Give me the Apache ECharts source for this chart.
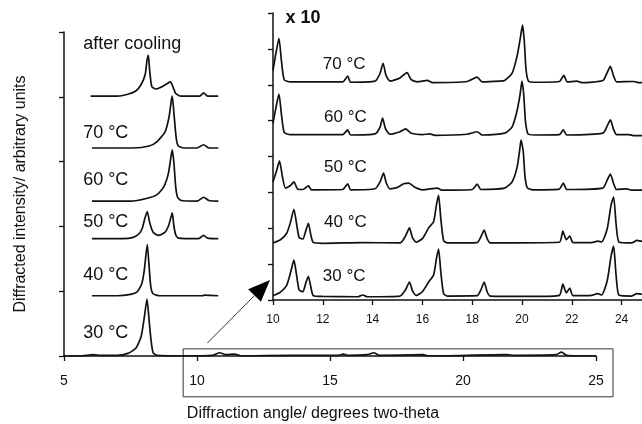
<!DOCTYPE html>
<html>
<head>
<meta charset="UTF-8">
<script src="https://cdn.jsdelivr.net/npm/echarts@6/dist/echarts.min.js"></script>
<style>
    html, body { margin: 0; padding: 0; background: #fff; }
    #chart { width: 642px; height: 424px; }
</style>
</head>
<body>
<div id="chart"></div>
<script>
// XRD patterns: [angle, intensity above own baseline]

// main panel (full scale), y units = axis units
const main30 = [[5,0],[5.6,0],[6.1,0.02],[6.4,0.01],[7.0,0.01],[7.4,0.04],[7.7,0.12],[7.9,0.3],[8.02,0.6],[8.12,0.88],[8.2,0.55],[8.27,0.25],[8.35,0.05],[8.5,0.01],[9.5,0],[10.6,0.01],[10.85,0.05],[11.1,0.02],[11.4,0.03],[11.7,0],[13.6,0.01],[15.3,0.01],[15.5,0.03],[15.7,0.01],[16.4,0.02],[16.65,0.05],[16.85,0.01],[18.5,0.02],[18.7,0],[21.65,0.02],[21.9,0.01],[23.5,0.02],[23.7,0.06],[23.9,0.01],[25,0]];
const main40 = [[6.05,0],[7.0,0],[7.5,0.02],[7.75,0.06],[7.92,0.18],[8.02,0.4],[8.13,0.79],[8.2,0.45],[8.26,0.15],[8.35,0.03],[8.6,0],[10.2,0],[10.3,0.01],[10.8,0]];
const main50 = [[6.05,0],[7.2,0],[7.6,0.02],[7.83,0.08],[7.95,0.17],[8.03,0.3],[8.13,0.42],[8.22,0.25],[8.35,0.1],[8.55,0.05],[8.8,0.1],[8.93,0.2],[9.0,0.3],[9.07,0.4],[9.13,0.2],[9.2,0.06],[9.3,0.01],[10.05,0],[10.25,0.05],[10.4,0.01],[10.8,0]];
const main60 = [[6.05,0],[7.5,0],[8.1,0.04],[8.5,0.1],[8.75,0.22],[8.92,0.42],[9.02,0.68],[9.07,0.79],[9.13,0.6],[9.2,0.22],[9.27,0.06],[9.4,0.01],[10.0,0],[10.25,0.06],[10.45,0.01],[10.8,0]];
const main70 = [[6.05,0],[7.6,0],[8.2,0.03],[8.5,0.1],[8.8,0.25],[8.95,0.48],[9.03,0.72],[9.07,0.8],[9.14,0.5],[9.22,0.15],[9.3,0.03],[9.5,0],[10.0,0],[10.25,0.05],[10.45,0],[10.8,0]];
const mainCool = [[6.0,0],[7.0,0],[7.4,0.03],[7.7,0.08],[7.9,0.18],[8.05,0.33],[8.12,0.55],[8.17,0.63],[8.22,0.4],[8.3,0.15],[8.45,0.11],[8.7,0.15],[8.9,0.2],[9.0,0.22],[9.1,0.14],[9.2,0.04],[9.4,0],[10.1,0],[10.25,0.05],[10.4,0],[10.8,0]];
const mainOffsets = [0, 0.93, 1.81, 2.39, 3.21, 4.01];
const mainLabels = ['30 °C', '40 °C', '50 °C', '60 °C', '70 °C', 'after cooling'];

// inset (x 10 magnified)
const inset30 = [[10,0.04],[10.3,0.14],[10.55,0.33],[10.7,0.67],[10.84,1.03],[10.95,0.6],[11.05,0.2],[11.2,0.15],[11.32,0.4],[11.42,0.58],[11.52,0.28],[11.62,0.04],[12.0,0.02],[13.4,0.01],[13.6,0.06],[13.8,0.01],[15.1,0.03],[15.32,0.2],[15.48,0.42],[15.6,0.18],[15.75,0.05],[16.0,0.15],[16.25,0.42],[16.45,0.62],[16.57,1.1],[16.65,1.34],[16.74,0.7],[16.85,0.1],[17.0,0.03],[18.2,0.04],[18.36,0.22],[18.48,0.42],[18.6,0.15],[18.72,0.03],[20.5,0.02],[21.5,0.05],[21.64,0.36],[21.78,0.12],[21.92,0.25],[22.05,0.04],[22.8,0.05],[23.04,0.1],[23.2,0.06],[23.42,0.45],[23.58,1.15],[23.68,1.42],[23.78,0.6],[23.9,0.05],[24.4,0.03],[24.62,0.1],[24.8,0.08],[25,0.08]];
const inset40 = [[10,0.03],[10.3,0.12],[10.55,0.3],[10.7,0.6],[10.84,0.97],[10.95,0.55],[11.05,0.18],[11.2,0.14],[11.32,0.38],[11.42,0.58],[11.52,0.25],[11.62,0.04],[12.0,0.02],[13.6,0.04],[15.1,0.03],[15.32,0.22],[15.48,0.45],[15.6,0.18],[15.75,0.05],[16.0,0.15],[16.25,0.45],[16.45,0.62],[16.57,1.12],[16.65,1.36],[16.74,0.7],[16.85,0.1],[17.0,0.03],[18.2,0.04],[18.36,0.22],[18.48,0.39],[18.6,0.15],[18.72,0.03],[21.5,0.05],[21.64,0.36],[21.78,0.12],[21.92,0.22],[22.05,0.04],[22.8,0.04],[23.04,0.08],[23.2,0.06],[23.42,0.42],[23.58,1.1],[23.68,1.31],[23.78,0.55],[23.9,0.05],[24.4,0.03],[24.62,0.1],[24.8,0.08],[25,0.08]];
const inset50 = [[10,0.25],[10.15,0.58],[10.26,0.84],[10.38,0.39],[10.5,0.08],[10.7,0.15],[10.84,0.25],[10.98,0.06],[11.2,0.04],[11.42,0.14],[11.55,0.03],[12.8,0.04],[13.0,0.2],[13.12,0.03],[14.1,0.06],[14.3,0.25],[14.44,0.5],[14.55,0.22],[14.7,0.06],[15.0,0.1],[15.25,0.2],[15.45,0.22],[15.7,0.1],[16.0,0.03],[16.6,0.08],[16.8,0.02],[18.0,0.04],[18.2,0.19],[18.35,0.04],[19.3,0.08],[19.6,0.25],[19.8,0.65],[19.9,1.1],[19.96,1.42],[20.05,1.1],[20.12,0.4],[20.22,0.08],[20.5,0.03],[21.5,0.05],[21.66,0.22],[21.8,0.04],[23.25,0.08],[23.42,0.3],[23.55,0.47],[23.68,0.2],[23.8,0.04],[24.2,0.06],[24.4,0.02],[25,0.02]];
const inset60 = [[10,0.36],[10.12,0.8],[10.24,1.17],[10.34,0.6],[10.45,0.1],[10.7,0.04],[12.8,0.04],[13.0,0.17],[13.12,0.03],[14.1,0.06],[14.3,0.25],[14.4,0.5],[14.52,0.2],[14.7,0.05],[15.1,0.12],[15.32,0.2],[15.55,0.08],[16.0,0.04],[16.3,0.06],[16.5,0.02],[17.8,0.05],[18.2,0.12],[18.4,0.03],[19.3,0.08],[19.6,0.25],[19.8,0.7],[19.92,1.15],[20.0,1.53],[20.07,1.15],[20.14,0.4],[20.24,0.06],[20.5,0.03],[21.5,0.04],[21.66,0.17],[21.8,0.03],[23.25,0.08],[23.42,0.28],[23.55,0.45],[23.68,0.18],[23.8,0.04],[24.3,0.04],[24.5,0.01],[25,0.01]];
const inset70 = [[10,0.36],[10.12,0.85],[10.24,1.25],[10.34,0.62],[10.45,0.1],[10.7,0.04],[12.8,0.04],[13.0,0.2],[13.12,0.03],[14.1,0.06],[14.3,0.28],[14.42,0.56],[14.54,0.22],[14.7,0.06],[15.1,0.15],[15.38,0.3],[15.55,0.1],[15.8,0.04],[16.2,0.08],[16.4,0.02],[17.8,0.05],[18.2,0.17],[18.4,0.04],[19.1,0.06],[19.3,0.08],[19.6,0.28],[19.8,0.75],[19.93,1.25],[20.02,1.62],[20.09,1.2],[20.16,0.4],[20.26,0.06],[20.5,0.03],[21.5,0.05],[21.68,0.22],[21.82,0.04],[22.2,0.06],[22.4,0.02],[23.25,0.08],[23.42,0.3],[23.55,0.47],[23.68,0.2],[23.8,0.04],[24.5,0.05],[24.7,0.02],[25,0.02]];
const insetOffsets = [0.08, 1.56, 3.04, 4.57, 6.04];
const insetLabels = ['30 °C', '40 °C', '50 °C', '60 °C', '70 °C'];

// where the temperature labels sit (data coords of each panel)
const mainLabelPos = [[5.72, 0.35], [5.72, 1.25], [5.72, 2.07], [5.72, 2.72], [5.72, 3.44], [5.72, 4.81]];
const insetLabelPos = [[12.0, 0.67], [12.05, 2.17], [12.05, 3.7], [12.05, 5.1], [12.0, 6.57]];

const FONT = '"Liberation Sans", Arial, sans-serif';
const INK = '#111';

function stack(points, offset) {
    return points.map(p => [p[0], p[1] + offset]);
}

function lineSeries(points, offset, idx) {
    return {
        type: 'line',
        xAxisIndex: idx,
        yAxisIndex: idx,
        data: stack(points, offset),
        showSymbol: false,
        symbol: 'none',
        smooth: 0.2,
        lineStyle: { color: INK, width: 1.7 },
        silent: true
    };
}

function axisBase(idx) {
    return {
        gridIndex: idx,
        type: 'value',
        axisLine: { show: true, onZero: false, lineStyle: { color: INK, width: 1.5 } },
        axisTick: { show: true, length: 5, lineStyle: { color: INK, width: 1.3 } },
        splitLine: { show: false }
    };
}

const mainData = [main30, main40, main50, main60, main70, mainCool];
const insetData = [inset30, inset40, inset50, inset60, inset70];

const series = [];
mainData.forEach((d, i) => series.push(lineSeries(d, mainOffsets[i], 0)));
insetData.forEach((d, i) => series.push(lineSeries(d, insetOffsets[i], 1)));

const option = {
    animation: false,
    backgroundColor: '#fff',
    grid: [
        { left: 64, right: 46, top: 32, bottom: 68, outerBoundsMode: 'none' },
        { left: 273, right: -4.5, top: 13, bottom: 124, outerBoundsMode: 'none' }
    ],
    xAxis: [
        Object.assign(axisBase(0), {
            min: 5, max: 25, interval: 5,
            axisLabel: { color: INK, fontSize: 14, margin: 18, fontFamily: FONT },
            name: 'Diffraction angle/ degrees two-theta',
            nameLocation: 'middle',
            nameGap: 50,
            nameTextStyle: { color: INK, fontSize: 16, fontFamily: FONT, padding: [0, 34, 0, 0] }
        }),
        Object.assign(axisBase(1), {
            min: 10, max: 25, interval: 2,
            axisLabel: { color: INK, fontSize: 12, margin: 14, fontFamily: FONT, showMaxLabel: false }
        })
    ],
    yAxis: [
        Object.assign(axisBase(0), {
            min: 0, max: 5, interval: 1,
            axisLabel: { show: false },
            name: 'Diffracted intensity/ arbitrary units',
            nameLocation: 'middle',
            nameGap: 35,
            nameTextStyle: { color: INK, fontSize: 16, fontFamily: FONT }
        }),
        Object.assign(axisBase(1), {
            min: 0, max: 8, interval: 1,
            axisLabel: { show: false }
        })
    ],
    series: series
};

const chart = echarts.init(document.getElementById('chart'));
chart.setOption(option);

// annotations placed through the axes
const toMain = p => chart.convertToPixel({ xAxisIndex: 0, yAxisIndex: 0 }, p);
const toInset = p => chart.convertToPixel({ xAxisIndex: 1, yAxisIndex: 1 }, p);

function label(text, pos, size, bold) {
    return {
        type: 'text',
        x: pos[0], y: pos[1],
        silent: true,
        style: {
            text: text,
            fill: INK,
            font: (bold ? 'bold ' : '') + size + 'px ' + FONT,
            align: 'left', verticalAlign: 'middle',
            textAlign: 'left', textVerticalAlign: 'middle'
        }
    };
}

const graphics = [];
mainLabels.forEach((t, i) => graphics.push(label(t, toMain(mainLabelPos[i]), 18)));
insetLabels.forEach((t, i) => graphics.push(label(t, toInset(insetLabelPos[i]), 17)));
graphics.push(label('x 10', toInset([10.5, 7.86]), 18, true));

// box around the magnified region
const b0 = toMain([9.48, 0.11]);
const b1 = toMain([25.64, -0.63]);
graphics.push({
    type: 'rect', silent: true,
    shape: { x: b0[0], y: b0[1], width: b1[0] - b0[0], height: b1[1] - b0[1] },
    style: { fill: 'none', stroke: '#333', lineWidth: 1 }
});

// arrow from the box up to the inset
const s = toMain([10.39, 0.2]);
const tip = toInset([9.88, 0.56]);
const dx = tip[0] - s[0], dy = tip[1] - s[1];
const len = Math.sqrt(dx * dx + dy * dy);
const ux = dx / len, uy = dy / len;
const headLen = 22, headHalf = 9;
const base = [tip[0] - ux * headLen, tip[1] - uy * headLen];
graphics.push({
    type: 'line', silent: true,
    shape: { x1: s[0], y1: s[1], x2: base[0], y2: base[1] },
    style: { stroke: '#222', lineWidth: 0.9 }
});
graphics.push({
    type: 'polygon', silent: true,
    shape: { points: [tip, [base[0] - uy * headHalf, base[1] + ux * headHalf], [base[0] + uy * headHalf, base[1] - ux * headHalf]] },
    style: { fill: '#000' }
});

chart.setOption({ graphic: graphics });
</script>
</body>
</html>
